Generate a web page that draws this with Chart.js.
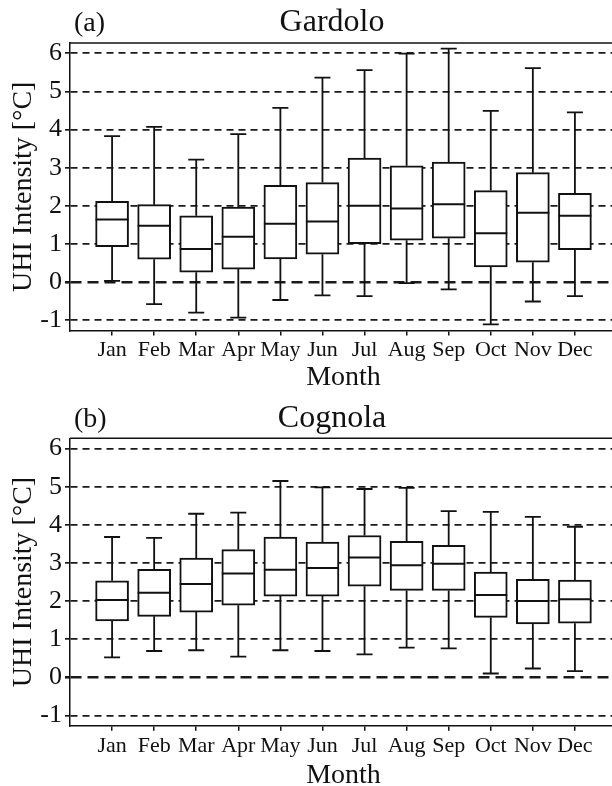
<!DOCTYPE html>
<html>
<head>
<meta charset="utf-8">
<script src="https://cdn.jsdelivr.net/npm/chart.js@4.4.1/dist/chart.umd.min.js"></script>
<style>
  html, body { margin: 0; padding: 0; background: #fff; width: 612px; height: 786px; overflow: hidden; }
  canvas { display: block; }
</style>
</head>
<body>
<canvas id="gardolo" width="617" height="394"></canvas>
<canvas id="cognola" width="617" height="398"></canvas>
<script>
const months = ["Jan", "Feb", "Mar", "Apr", "May", "Jun", "Jul", "Aug", "Sep", "Oct", "Nov", "Dec"];
const yTicks = [-1, 0, 1, 2, 3, 4, 5, 6];

// (a) Gardolo - box plot stats per month
const gardoloLow    = [0.03, -0.58, -0.80, -0.93, -0.47, -0.35, -0.37, -0.03, -0.19, -1.11, -0.51, -0.37];
const gardoloQ1     = [0.93, 0.60, 0.26, 0.34, 0.61, 0.73, 1.01, 1.10, 1.15, 0.40, 0.52, 0.85];
const gardoloMedian = [1.64, 1.48, 0.87, 1.19, 1.53, 1.59, 2.00, 1.93, 2.04, 1.28, 1.82, 1.74];
const gardoloQ3     = [2.12, 2.03, 1.74, 1.97, 2.54, 2.61, 3.25, 3.05, 3.15, 2.40, 2.87, 2.33];
const gardoloHigh   = [3.83, 4.07, 3.21, 3.88, 4.57, 5.36, 5.56, 5.99, 6.12, 4.49, 5.61, 4.45];

// (b) Cognola
const cognolaLow    = [0.52, 0.69, 0.71, 0.54, 0.71, 0.69, 0.60, 0.78, 0.76, 0.10, 0.23, 0.16];
const cognolaQ1     = [1.48, 1.60, 1.71, 1.89, 2.13, 2.13, 2.39, 2.28, 2.28, 1.57, 1.40, 1.42];
const cognolaMedian = [2.03, 2.22, 2.45, 2.72, 2.82, 2.87, 3.14, 2.94, 2.98, 2.16, 2.00, 2.05];
const cognolaQ3     = [2.53, 2.83, 3.13, 3.35, 3.68, 3.55, 3.72, 3.57, 3.46, 2.76, 2.57, 2.55];
const cognolaHigh   = [3.68, 3.66, 4.29, 4.32, 5.15, 4.98, 4.94, 4.97, 4.36, 4.34, 4.21, 3.95];

const SERIF = "'Liberation Serif', 'Times New Roman', serif";
const INK = "#111";

// whiskers, caps and median lines, placed with the chart's own scales
const whiskerPlugin = {
    id: "whiskers",
    afterDatasetsDraw(chart, args, opts) {
        const ctx = chart.ctx;
        const xs = chart.scales.x, ys = chart.scales.y;
        ctx.save();
        ctx.strokeStyle = INK;
        months.forEach((m, i) => {
            const x = xs.getPixelForValue(i + 1);
            const yLow = ys.getPixelForValue(opts.low[i]);
            const yQ1 = ys.getPixelForValue(opts.q1[i]);
            const yMed = ys.getPixelForValue(opts.median[i]);
            const yQ3 = ys.getPixelForValue(opts.q3[i]);
            const yHigh = ys.getPixelForValue(opts.high[i]);
            ctx.lineWidth = 1.8;
            ctx.beginPath();
            ctx.moveTo(x, yQ3); ctx.lineTo(x, yHigh);
            ctx.moveTo(x - 8, yHigh); ctx.lineTo(x + 8, yHigh);
            ctx.moveTo(x, yQ1); ctx.lineTo(x, yLow);
            ctx.moveTo(x - 8, yLow); ctx.lineTo(x + 8, yLow);
            ctx.stroke();
            ctx.lineWidth = 2;
            ctx.beginPath();
            ctx.moveTo(x - 16.5, yMed); ctx.lineTo(x + 16.5, yMed);
            ctx.stroke();
        });
        ctx.restore();
    }
};

// top frame line, panel letter and station name
const framePlugin = {
    id: "frame",
    afterDraw(chart, args, opts) {
        const ctx = chart.ctx;
        const area = chart.chartArea;
        ctx.save();
        ctx.strokeStyle = INK;
        ctx.lineWidth = 1.5;
        ctx.beginPath();
        ctx.moveTo(area.left, area.top);
        ctx.lineTo(area.right, area.top);
        ctx.stroke();
        ctx.fillStyle = INK;
        ctx.textBaseline = "alphabetic";
        ctx.textAlign = "left";
        ctx.font = "28px " + SERIF;
        ctx.fillText(opts.panel, area.left + 4, area.top - opts.gap);
        ctx.textAlign = "center";
        ctx.font = "32px " + SERIF;
        ctx.fillText(opts.title, area.left + 262, area.top - opts.gap);
        ctx.restore();
    }
};

function makeBoxChart(id, panel, title, low, q1, median, q3, high, topPad, xAxisHeight, gap) {
    return new Chart(document.getElementById(id), {
        type: "bar",
        data: {
            datasets: [{
                data: months.map((m, i) => ({ x: i + 1, y: [q1[i], q3[i]] })),
                backgroundColor: "#fff",
                borderColor: INK,
                borderWidth: 2,
                borderSkipped: false,
                barThickness: 33
            }]
        },
        options: {
            responsive: false,
            animation: false,
            layout: { padding: { top: topPad, left: 0, right: 0, bottom: 0 } },
            plugins: {
                legend: { display: false },
                tooltip: { enabled: false },
                whiskers: { low: low, q1: q1, median: median, q3: q3, high: high },
                frame: { panel: panel, title: title, gap: gap }
            },
            scales: {
                x: {
                    type: "linear",
                    offset: false,
                    min: 0,
                    max: months.length + 1,
                    afterBuildTicks: s => { s.ticks = months.map((m, i) => ({ value: i + 1 })); },
                    afterFit: s => { s.height = xAxisHeight; },
                    ticks: {
                        callback: v => months[v - 1],
                        autoSkip: false,
                        maxRotation: 0,
                        padding: 2,
                        color: INK,
                        font: { family: SERIF, size: 22 }
                    },
                    grid: { offset: false, drawOnChartArea: false, drawTicks: true, tickLength: 5, color: INK, lineWidth: 1.5 },
                    border: { display: true, color: INK, width: 1.5 },
                    title: { display: true, text: "Month", color: INK, font: { family: SERIF, size: 28 }, padding: 0 }
                },
                y: {
                    min: -1.27,
                    max: 6.27,
                    afterBuildTicks: s => { s.ticks = yTicks.map(v => ({ value: v })); },
                    afterFit: s => { s.width = 70; },
                    ticks: { padding: 3, color: INK, font: { family: SERIF, size: 26 } },
                    grid: {
                        drawTicks: true,
                        tickLength: 5,
                        color: "#1a1a1a",
                        lineWidth: c => (c.tick && c.tick.value === 0 ? 2.6 : 1.7)
                    },
                    border: {
                        display: true,
                        color: INK,
                        width: 1.5,
                        dash: c => (c.tick && c.tick.value === 0 ? [11, 6] : [7, 5])
                    },
                    title: {
                        display: true,
                        text: "UHI Intensity [°C]",
                        color: INK,
                        font: { family: SERIF, size: 28 },
                        padding: { top: 7, bottom: 0 }
                    }
                }
            }
        },
        plugins: [whiskerPlugin, framePlugin]
    });
}

makeBoxChart("gardolo", "(a)", "Gardolo", gardoloLow, gardoloQ1, gardoloMedian, gardoloQ3, gardoloHigh, 43, 63.5, 12);
makeBoxChart("cognola", "(b)", "Cognola", cognolaLow, cognolaQ1, cognolaMedian, cognolaQ3, cognolaHigh, 44.3, 66.3, 11);
</script>
</body>
</html>
